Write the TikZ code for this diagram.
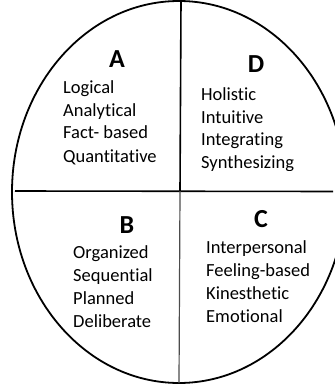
\documentclass[tikz,border=0pt]{standalone}
\usepackage{fontspec}
\setmainfont{Carlito}[Ligatures={NoCommon}]
\begin{document}
\begin{tikzpicture}[x=1pt,y=-1pt,
  word/.style={anchor=base west,inner sep=0pt,font=\fontsize{18.5}{22}\selectfont},
  letter/.style={anchor=base,inner sep=0pt,font=\fontsize{26}{30}\selectfont\bfseries},
  outline/.style={line width=1.8pt,black}]
\useasboundingbox (0,0) rectangle (334,390);
\draw[outline] (179,192) ellipse [x radius=167, y radius=191];
\coordinate (hl) at (15,191);
\coordinate (hr) at (333,191.5);
\coordinate (vt) at (181,1);
\coordinate (vm) at (180,191);
\coordinate (vb) at (179,383);
\draw[line width=1.6pt] (hl) -- (hr);
\draw[line width=1.6pt] (vt) -- (vm);
\draw[line width=1.2pt,black!70] (vm) -- (vb);
% A
\node[letter] (A) at (117,68) {A};
\node[word] (a1) at (63,94) {Logical};
\node[word] (a2) at (63,117) {Analytical};
\node[word] (a3) at (63,139) {Fact- based};
\node[word] (a4) at (63,162) {Quantitative};
% D
\node[letter] (D) at (256,73) {D};
\begin{scope}
\clip (190,80) rectangle (334,170.5);
\node[word] (d1) at (201,101) {Holistic};
\node[word] (d2) at (201,124) {Intuitive};
\node[word] (d3) at (201,146) {Integrating};
\node[word] (d4) at (201,168) {Synthesizing};
\end{scope}
% B
\node[letter] (B) at (127,233) {B};
\node[word] (b1) at (73,258) {Organized};
\node[word] (b2) at (73,281) {Sequential};
\node[word] (b3) at (73,304) {Planned};
\node[word] (b4) at (73,327) {Deliberate};
% C
\node[letter] (C) at (261,227) {C};
\node[word] (c1) at (206,253) {Interpersonal};
\node[word] (c2) at (206,276) {Feeling-based};
\node[word] (c3) at (206,299) {Kinesthetic};
\node[word] (c4) at (206,322) {Emotional};
\end{tikzpicture}
\end{document}
